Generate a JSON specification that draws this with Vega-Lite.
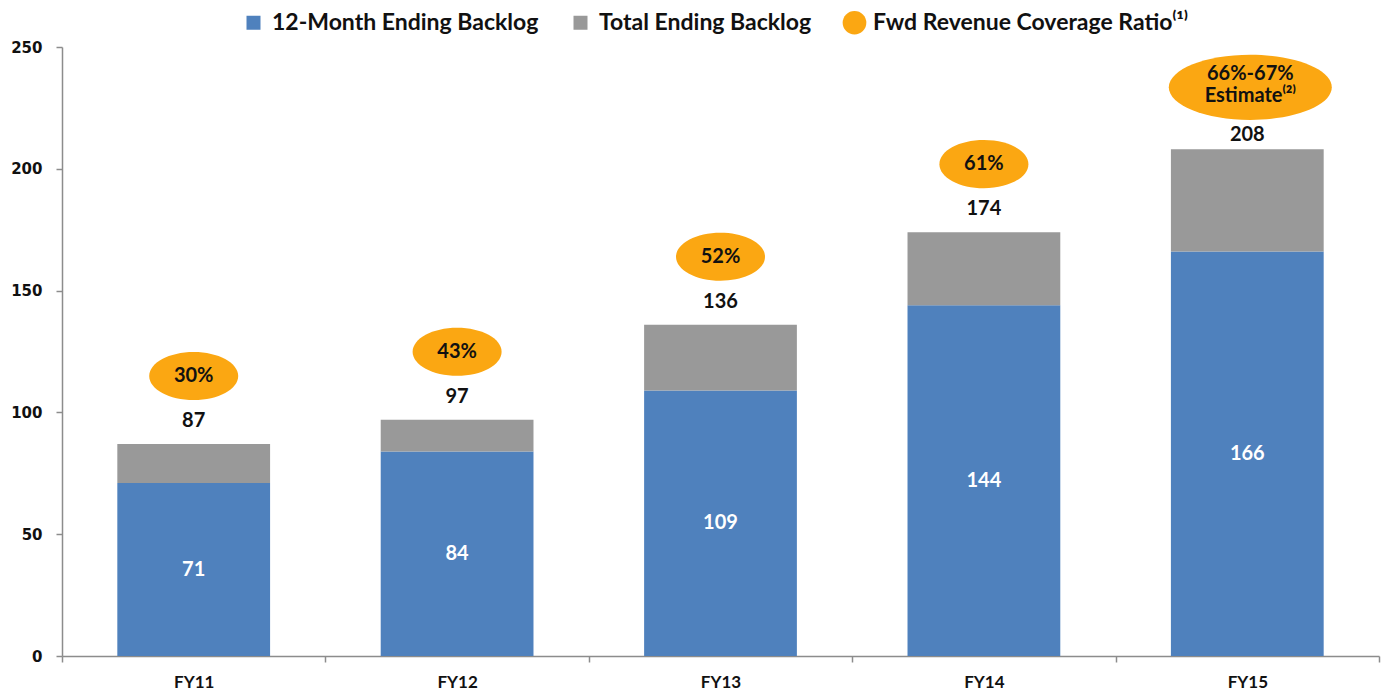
{
  "$schema": "https://vega.github.io/schema/vega-lite/v6.json",
  "width": 1317,
  "height": 609,
  "autosize": "none",
  "padding": {"left": 62, "top": 47, "right": 9, "bottom": 39},
  "background": "#ffffff",
  "config": {"view": {"stroke": null}},
  "data": {
    "values": [
      {"fy": "FY11", "twelve": 71, "total": 87, "ratio": "30%"},
      {"fy": "FY12", "twelve": 84, "total": 97, "ratio": "43%"},
      {"fy": "FY13", "twelve": 109, "total": 136, "ratio": "52%"},
      {"fy": "FY14", "twelve": 144, "total": 174, "ratio": "61%"},
      {"fy": "FY15", "twelve": 166, "total": 208, "ratio": "66%-67%\nEstimate⁽²⁾"}
    ]
  },
  "encoding": {
    "x": {
      "field": "fy",
      "type": "nominal",
      "sort": null,
      "scale": {"paddingInner": 0, "paddingOuter": 0},
      "axis": {
        "title": null,
        "labelAngle": 0,
        "tickBand": "extent",
        "domainColor": "#8c8c8c",
        "domainWidth": 1.5,
        "tickColor": "#8c8c8c",
        "tickWidth": 1.5,
        "tickSize": 6,
        "labelFont": "Lato",
        "labelFontWeight": "bold",
        "labelFontSize": 17,
        "labelColor": "#111111",
        "labelPadding": 12
      }
    }
  },
  "layer": [
    {
      "layer": [
        {
          "mark": {"type": "bar", "width": {"band": 0.58}},
          "encoding": {
            "y": {
              "field": "twelve",
              "type": "quantitative",
              "scale": {"domain": [0, 250], "nice": false},
              "axis": {
                "title": null,
                "values": [0, 50, 100, 150, 200, 250],
                "grid": false,
                "domainColor": "#8c8c8c",
                "domainWidth": 1.5,
                "tickColor": "#8c8c8c",
                "tickWidth": 1.5,
                "tickSize": 6,
                "labelFont": "DejaVu Sans",
                "labelFontWeight": "bold",
                "labelFontSize": 15,
                "labelColor": "#111111",
                "labelPadding": 14
              }
            },
            "color": {
              "datum": "12-Month Ending Backlog",
              "type": "nominal",
              "scale": {
                "domain": ["12-Month Ending Backlog", "Total Ending Backlog", "Fwd Revenue Coverage Ratio⁽¹⁾"],
                "range": ["#4F81BD", "#999999", "#FBA712"]
              },
              "legend": {
                "title": null,
                "orient": "none",
                "direction": "horizontal",
                "legendX": 180,
                "legendY": -36,
                "padding": 0,
                "symbolSize": 196,
                "symbolType": "square",
                "symbolStrokeWidth": 0,
                "labelFont": "Lato",
                "labelFontWeight": "bold",
                "labelFontSize": 23,
                "labelColor": "#111111",
                "labelOffset": 7,
                "columnPadding": 30,
                "labelLimit": 400,
                "encode": {
                  "symbols": {
                    "update": {
                      "shape": {"signal": "test(/Fwd/, datum.value) ? 'circle' : 'square'"},
                      "size": {"signal": "test(/Fwd/, datum.value) ? 560 : 196"}
                    }
                  }
                }
              }
            }
          }
        },
        {
          "mark": {"type": "bar", "width": {"band": 0.58}},
          "encoding": {
            "y": {"field": "twelve", "type": "quantitative"},
            "y2": {"field": "total"},
            "color": {"datum": "Total Ending Backlog", "type": "nominal"}
          }
        },
        {
          "transform": [{"filter": "datum.fy !== 'FY15'"}],
          "mark": {"type": "text", "font": "Lato", "fontWeight": "bold", "fontSize": 20, "color": "#111111", "baseline": "middle", "dy": -23},
          "encoding": {
            "y": {"field": "total", "type": "quantitative"},
            "text": {"field": "total", "type": "quantitative"}
          }
        },
        {
          "transform": [{"filter": "datum.fy === 'FY15'"}],
          "mark": {"type": "text", "font": "Lato", "fontWeight": "bold", "fontSize": 20, "color": "#111111", "baseline": "middle", "dy": -14},
          "encoding": {
            "y": {"field": "total", "type": "quantitative"},
            "text": {"field": "total", "type": "quantitative"}
          }
        },
        {
          "transform": [{"filter": "datum.fy !== 'FY15'"}],
          "mark": {
            "type": "point",
            "filled": true,
            "opacity": 1,
            "strokeWidth": 0,
            "shape": "M -1 0 A 1 0.54 0 1 0 1 0 A 1 0.54 0 1 0 -1 0 Z",
            "size": 7921,
            "yOffset": -68
          },
          "encoding": {
            "y": {"field": "total", "type": "quantitative"},
            "color": {"datum": "Fwd Revenue Coverage Ratio⁽¹⁾", "type": "nominal"}
          }
        },
        {
          "transform": [{"filter": "datum.fy === 'FY15'"}],
          "mark": {
            "type": "point",
            "filled": true,
            "opacity": 1,
            "strokeWidth": 0,
            "shape": "M -1 0 A 1 0.4 0 1 0 1 0 A 1 0.4 0 1 0 -1 0 Z",
            "size": 26569,
            "yOffset": -62,
            "xOffset": 3
          },
          "encoding": {
            "y": {"field": "total", "type": "quantitative"},
            "color": {"datum": "Fwd Revenue Coverage Ratio⁽¹⁾", "type": "nominal"}
          }
        },
        {
          "transform": [{"filter": "datum.fy !== 'FY15'"}],
          "mark": {"type": "text", "font": "Lato", "fontWeight": "bold", "fontSize": 20, "color": "#111111", "baseline": "middle", "yOffset": -68},
          "encoding": {
            "y": {"field": "total", "type": "quantitative"},
            "text": {"field": "ratio", "type": "nominal"}
          }
        },
        {
          "transform": [{"filter": "datum.fy === 'FY15'"}],
          "mark": {"type": "text", "font": "Lato", "fontWeight": "bold", "fontSize": 20, "color": "#111111", "baseline": "middle", "lineBreak": "\n", "lineHeight": 22, "yOffset": -75, "xOffset": 3},
          "encoding": {
            "y": {"field": "total", "type": "quantitative"},
            "text": {"field": "ratio", "type": "nominal"}
          }
        }
      ]
    },
    {
      "mark": {"type": "text", "font": "Lato", "fontWeight": "bold", "fontSize": 20, "color": "#ffffff", "baseline": "middle"},
      "encoding": {
        "y": {
          "field": "twelve",
          "type": "quantitative",
          "scale": {"domain": [0, 500], "nice": false},
          "axis": null
        },
        "text": {"field": "twelve", "type": "quantitative"}
      }
    }
  ],
  "resolve": {"scale": {"y": "independent"}}
}
